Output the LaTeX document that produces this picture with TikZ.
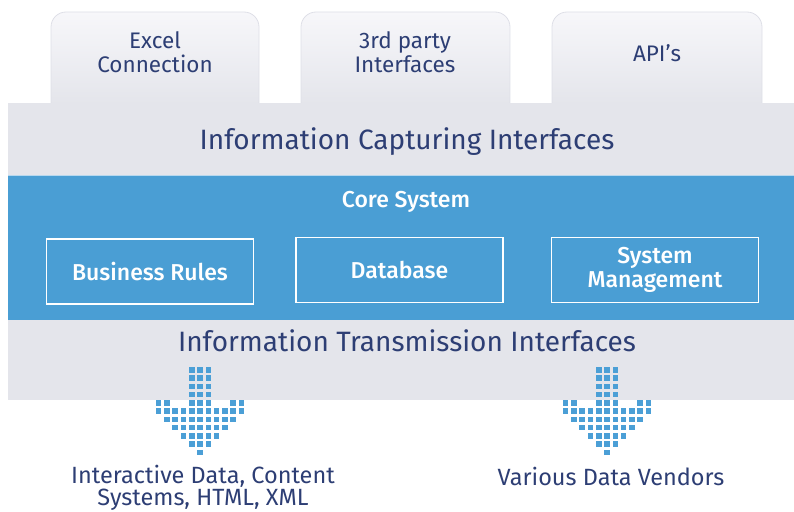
\documentclass[tikz,border=0pt]{standalone}
\usepackage{fontspec}
\setmainfont{Fira Sans}[BoldFont={Fira Sans Medium}]
\definecolor{bandgray}{HTML}{E4E5EB}
\definecolor{coreblue}{HTML}{4A9ED4}
\definecolor{textnavy}{HTML}{2D3E74}
\definecolor{tabtop}{HTML}{F7F7FA}
\definecolor{tabline}{HTML}{DEDFE7}
\definecolor{pixblue}{HTML}{4B9FD6}
\begin{document}
\begin{tikzpicture}[x=1pt,y=-1pt,
tab/.style={draw=tabline,line width=0.8pt,top color=tabtop,bottom color=bandgray,rounded corners=15pt},
tabtext/.style={text=textnavy,font=\fontsize{22.5}{24}\selectfont,align=center},
outtext/.style={text=textnavy,font=\fontsize{23.5}{22}\selectfont,align=center},
layertext/.style={text=textnavy,font=\fontsize{28}{30}\selectfont},
modbox/.style={draw=white,line width=1.5pt,text=white,font=\bfseries\fontsize{23}{24}\selectfont,align=center,minimum width=207pt,minimum height=65pt,inner sep=0pt},
pix/.style={fill=pixblue}]
\useasboundingbox (0,0) rectangle (794,511);
% tabs on top
\foreach \name/\xa/\xb in {excel/51/259,third/301/510,api/552/762}
  \draw[tab] (\xa,104) -- (\xa,12) -- (\xb,12) -- (\xb,104);
\node[tabtext] (excel) at (155,52) {Excel\\Connection};
\node[tabtext] (third) at (405,52) {3rd party\\Interfaces};
\node[tabtext] (api) at (657,53) {API’s};
% layers
\fill[bandgray] (8,103) rectangle (794,400);
\fill[coreblue] (8,175) rectangle (794,320);
\draw[white!60!coreblue,line width=0.8pt] (8,175.4) -- (794,175.4);
\node[layertext] (capture) at (407,142) {Information Capturing Interfaces};
\node[text=white,font=\bfseries\fontsize{23}{24}\selectfont] (core) at (406,202) {Core System};
\node[modbox] (rules) at (150,271.5) {Business Rules};
\node[modbox] (db) at (399.5,270) {Database};
\node[modbox] (sysman) at (655,270) {System\\Management};
\node[layertext] (transmit) at (407,341) {Information Transmission Interfaces};
% pixel arrows
\foreach \cx in {200,607}{
  \foreach \r/\a/\b in {0/4/6,1/4/6,2/4/6,3/4/6,4/4/6,5/0/10,6/1/9,7/2/8,8/3/7,9/4/6,10/5/5}
    \foreach \c in {\a,...,\b}
      \fill[pix] ({\cx+(\c-5)*8.3-2.8},{370+\r*8.23-2.8}) rectangle +(5.6,5.6);
  \foreach \c in {0,1,9,10}
    \fill[pix] ({\cx+(\c-5)*8.3-2.8},{370+4*8.23-2.8}) rectangle +(5.6,5.6);
}
\node[outtext] (interactive) at (203,488) {Interactive Data, Content\\Systems, HTML, XML};
\node[outtext] (vendors) at (611,476) {Various Data Vendors};
\end{tikzpicture}
\end{document}
